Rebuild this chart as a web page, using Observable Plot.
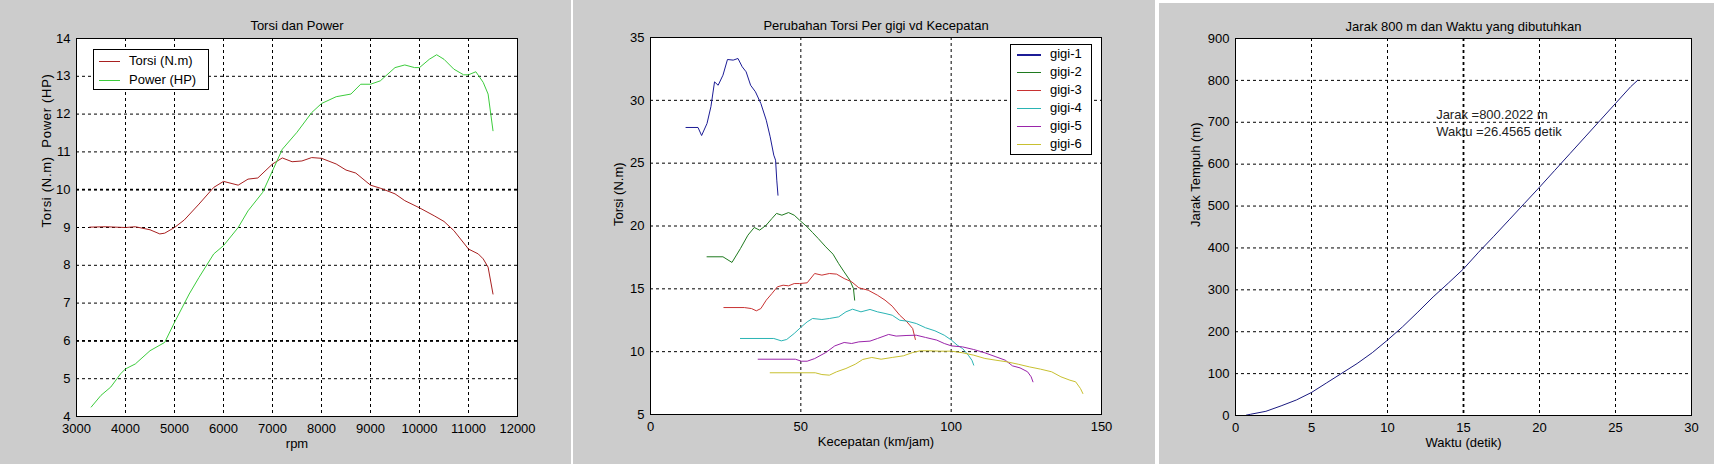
<!DOCTYPE html>
<html>
<head>
<meta charset="utf-8">
<script src="https://cdn.jsdelivr.net/npm/d3@7"></script>
<script src="https://cdn.jsdelivr.net/npm/@observablehq/plot@0.6"></script>
<style>
  html, body { margin: 0; padding: 0; background: #ffffff; }
  #wrap { position: relative; width: 1714px; height: 464px; overflow: hidden; background: #ffffff; font-family: "Liberation Sans", Arial, sans-serif; }
  .panel { position: absolute; }
  .legend { position: absolute; background: #ffffff; border: 1px solid #000; box-sizing: border-box; font-size: 13px; color: #000; }
  .legend .row { position: absolute; left: 0; height: 16px; line-height: 16px; white-space: nowrap; }
  .legend .sw { position: absolute; top: 8px; height: 0; }
  .legend .lab { position: absolute; top: 0; }
</style>
</head>
<body>
<div id="wrap">
  <div class="panel" id="p1" style="left:0;top:0;width:571px;height:464px;"></div>
  <div class="panel" id="p2" style="left:573px;top:0;width:582px;height:464px;"></div>
  <div class="panel" id="p3" style="left:1159px;top:3px;width:555px;height:461px;"></div>
</div>
<script>
// ---------------- Panel 1: Torsi dan Power ----------------
const p1Title = "Torsi dan Power";
const p1XLabel = "rpm";
const p1YLabel = "Torsi (N.m)  Power (HP)";
const rpmTicks = [3000, 4000, 5000, 6000, 7000, 8000, 9000, 10000, 11000, 12000];
const p1YTicks = [4, 5, 6, 7, 8, 9, 10, 11, 12, 13, 14];
const seriesP1 = ["Torsi (N.m)", "Power (HP)"];
const colorsP1 = ["#a82020", "#3ccc3c"];

const torsiRpm = [3270, 3600, 4000, 4200, 4500, 4700, 4800, 5000, 5200, 5500, 5800, 6000, 6300, 6500, 6700, 7000, 7200, 7400, 7600, 7800, 8000, 8300, 8500, 8700, 9000, 9200, 9500, 9700, 10000, 10300, 10500, 10700, 11000, 11200, 11300, 11400, 11500];
const torsiVal = [9.01, 9.02, 9.0, 9.02, 8.94, 8.83, 8.85, 9.0, 9.2, 9.62, 10.06, 10.22, 10.12, 10.28, 10.31, 10.68, 10.84, 10.74, 10.76, 10.85, 10.83, 10.68, 10.52, 10.44, 10.12, 10.04, 9.89, 9.71, 9.52, 9.31, 9.16, 8.92, 8.43, 8.30, 8.17, 7.95, 7.24];

const powerRpm = [3300, 3500, 3700, 3900, 4000, 4200, 4500, 4800, 5000, 5300, 5500, 5800, 6000, 6300, 6500, 6800, 7000, 7200, 7500, 7800, 8000, 8300, 8600, 8800, 9000, 9200, 9500, 9700, 9900, 10000, 10200, 10350, 10500, 10700, 10900, 11000, 11150, 11300, 11400, 11500];
const powerVal = [4.25, 4.56, 4.78, 5.13, 5.26, 5.39, 5.74, 5.96, 6.49, 7.24, 7.68, 8.30, 8.52, 9.0, 9.44, 9.93, 10.5, 11.07, 11.52, 12.04, 12.28, 12.46, 12.53, 12.79, 12.79, 12.88, 13.23, 13.30, 13.23, 13.23, 13.45, 13.57, 13.45, 13.19, 13.04, 13.04, 13.12, 12.84, 12.53, 11.56];

// ---------------- Panel 2: Perubahan Torsi Per gigi vd Kecepatan ----------------
const p2Title = "Perubahan Torsi Per gigi vd Kecepatan";
const p2XLabel = "Kecepatan (km/jam)";
const p2YLabel = "Torsi (N.m)";
const speedTicks = [0, 50, 100, 150];
const p2YTicks = [5, 10, 15, 20, 25, 30, 35];
const gears = ["gigi-1", "gigi-2", "gigi-3", "gigi-4", "gigi-5", "gigi-6"];
const gearColors = ["#1c1c96", "#1f7a1f", "#c83232", "#2ab4b4", "#9a24aa", "#c8c030"];

const gigi1Speed = [11.8, 15.8, 17.0, 18.8, 20.1, 21.3, 22.5, 24.1, 25.6, 27.5, 29.1, 30.5, 31.8, 33.3, 34.9, 36.7, 38.5, 39.8, 41.0, 41.6, 42.0, 42.4];
const gigi1Torque = [27.84, 27.84, 27.2, 28.16, 29.5, 31.47, 31.2, 32.0, 33.25, 33.2, 33.33, 32.67, 32.27, 31.2, 30.68, 29.75, 28.42, 27.1, 25.64, 25.24, 23.65, 22.45];

const gigi2Speed = [18.8, 24.1, 27.1, 29.9, 32.4, 34.5, 36.3, 38.5, 40.4, 41.9, 43.7, 45.9, 47.8, 49.6, 52.1, 53.9, 55.8, 58.3, 60.7, 62.6, 64.4, 66.3, 67.5, 67.9];
const gigi2Torque = [17.55, 17.55, 17.1, 18.2, 19.27, 19.88, 19.67, 20.07, 20.6, 21.0, 20.86, 21.07, 20.86, 20.46, 19.93, 19.48, 19.0, 18.34, 17.76, 17.0, 16.35, 15.69, 15.03, 14.1];

const gigi3Speed = [24.4, 31.2, 33.6, 35.2, 36.7, 38.5, 40.4, 42.2, 44.1, 45.9, 47.8, 49.6, 52.1, 54.6, 57.0, 59.5, 61.9, 64.4, 66.9, 69.3, 72.4, 75.5, 78.0, 80.4, 82.9, 85.3, 87.2, 88.1];
const gigi3Torque = [13.51, 13.51, 13.43, 13.25, 13.43, 14.1, 14.63, 15.16, 15.29, 15.24, 15.42, 15.42, 15.48, 16.22, 16.09, 16.22, 16.17, 15.82, 15.56, 15.08, 14.89, 14.49, 14.1, 13.62, 12.9, 12.37, 11.84, 10.97];

const gigi4Speed = [29.9, 41.0, 43.5, 45.3, 47.8, 50.2, 52.1, 53.9, 57.0, 59.5, 62.6, 65.0, 67.2, 70.0, 73.0, 75.5, 78.0, 80.4, 82.9, 85.3, 88.4, 91.5, 94.6, 97.7, 100.1, 102.0, 103.8, 105.7, 106.9, 107.5];
const gigi4Torque = [11.05, 11.05, 10.86, 10.97, 11.45, 11.98, 12.37, 12.64, 12.56, 12.64, 12.77, 13.17, 13.38, 13.17, 13.36, 13.17, 13.04, 12.9, 12.5, 12.43, 12.24, 11.9, 11.66, 11.31, 10.92, 10.52, 10.25, 9.72, 9.32, 8.93];

const gigi5Speed = [35.8, 48.2, 50.2, 52.1, 54.6, 58.3, 61.3, 64.4, 66.9, 69.3, 73.0, 75.5, 79.2, 81.7, 85.3, 88.4, 91.5, 95.2, 97.7, 100.1, 103.8, 107.5, 111.2, 114.9, 118.0, 120.4, 122.9, 125.4, 126.6, 127.2];
const gigi5Torque = [9.4, 9.4, 9.24, 9.24, 9.45, 9.93, 10.46, 10.73, 10.65, 10.78, 10.84, 11.05, 11.37, 11.24, 11.29, 11.31, 11.13, 10.92, 10.65, 10.46, 10.38, 10.17, 9.91, 9.59, 9.32, 8.87, 8.71, 8.4, 8.0, 7.6];

const gigi6Speed = [39.8, 54.8, 57.0, 59.5, 61.9, 65.0, 68.1, 70.6, 73.6, 76.7, 80.4, 84.1, 87.2, 89.7, 92.7, 96.4, 100.1, 103.8, 107.5, 111.2, 114.9, 118.6, 122.3, 126.0, 129.7, 133.4, 136.5, 139.5, 141.4, 143.0, 143.8];
const gigi6Torque = [8.32, 8.32, 8.18, 8.13, 8.4, 8.66, 9.0, 9.38, 9.54, 9.4, 9.54, 9.67, 9.93, 10.07, 10.07, 10.04, 10.04, 9.91, 9.72, 9.46, 9.32, 9.19, 9.0, 8.79, 8.61, 8.4, 8.0, 7.73, 7.6, 7.07, 6.67];

// ---------------- Panel 3: Jarak 800 m dan Waktu yang dibutuhkan ----------------
const p3Title = "Jarak 800 m dan Waktu yang dibutuhkan";
const p3XLabel = "Waktu (detik)";
const p3YLabel = "Jarak Tempuh (m)";
const timeTicks = [0, 5, 10, 15, 20, 25, 30];
const distTicks = [0, 100, 200, 300, 400, 500, 600, 700, 800, 900];
const finalDistance = 800.2022;
const finalTime = 26.4565;
const annotationPos = [13.2, 700];
const waktu = [0.72, 1, 2, 3, 4, 5, 6, 7, 8, 9, 10, 11, 12, 13, 14, 15, 16, 17, 18, 19, 20, 21, 22, 23, 24, 25, 26, 26.4565];
const jarak = [1, 3, 10, 23, 37, 55, 78, 101, 124, 150, 180, 212, 247, 283, 316, 350, 390, 428, 467, 506, 545, 585, 625, 665, 705, 745, 785, 800.2022];

// ---------------- helpers ----------------
const zipXY = (xs, ys) => xs.map((x, i) => ({x, y: ys[i]}));
const FONT = "'Liberation Sans', Arial, Helvetica, sans-serif";
const baseStyle = {background: "#cccccc", color: "#000", fontFamily: FONT, fontSize: "13px", overflow: "visible"};
const gridOpts = {stroke: "#000", strokeOpacity: 1, strokeWidth: 1, strokeDasharray: "3,3"};

function commonMarks({xTicks, yTicks, title, xLabel, yLabel, titleDy, xLabelDy, yLabelDx}) {
  return {
    pre: [
      Plot.frame({fill: "#ffffff", stroke: null}),
      Plot.gridX(xTicks, gridOpts),
      Plot.gridY(yTicks, gridOpts)
    ],
    post: [
      Plot.frame({stroke: "#000", strokeWidth: 1}),
      Plot.axisX(xTicks, {tickSize: 0, tickPadding: 7, label: null, tickFormat: d => String(d), fill: "#000", fontSize: 13}),
      Plot.axisY(yTicks, {tickSize: 0, tickPadding: 6, label: null, tickFormat: d => String(d), fill: "#000", fontSize: 13}),
      Plot.text([title], {text: d => d, frameAnchor: "top", dy: titleDy, fill: "#000", fontSize: 13}),
      Plot.text([xLabel], {text: d => d, frameAnchor: "bottom", dy: xLabelDy, fill: "#000", fontSize: 13}),
      Plot.text([yLabel], {text: d => d, frameAnchor: "left", dx: yLabelDx, rotate: -90, fill: "#000", fontSize: 13, className: "ylab"})
    ]
  };
}

// ---------------- Panel 1 ----------------
{
  const cm = commonMarks({xTicks: rpmTicks, yTicks: p1YTicks, title: p1Title, xLabel: p1XLabel, yLabel: p1YLabel, titleDy: -18, xLabelDy: 31, yLabelDx: -30});
  const chart = Plot.plot({
    width: 571, height: 464,
    marginLeft: 76, marginRight: 54, marginTop: 38, marginBottom: 48,
    style: baseStyle,
    x: {domain: [3000, 12000]},
    y: {domain: [4, 14]},
    marks: [
      ...cm.pre,
      Plot.gridY([6, 10], {...gridOpts, strokeWidth: 1.8}),
      Plot.line(zipXY(torsiRpm, torsiVal), {x: "x", y: "y", stroke: colorsP1[0], strokeWidth: 1}),
      Plot.line(zipXY(powerRpm, powerVal), {x: "x", y: "y", stroke: colorsP1[1], strokeWidth: 1}),
      ...cm.post
    ]
  });
  const p1 = document.getElementById("p1");
  p1.appendChild(chart);
  d3.select(chart).selectAll(".ylab text").style("letter-spacing", "0.7px");
  const lg = document.createElement("div");
  lg.className = "legend";
  Object.assign(lg.style, {left: "93px", top: "49px", width: "116px", height: "41px"});
  seriesP1.forEach((name, i) => {
    const row = document.createElement("div");
    row.className = "row";
    row.style.top = (3.3 + i * 18.7) + "px";
    row.style.width = "100%";
    row.innerHTML = `<div class="sw" style="left:5px;width:21px;border-top:1px solid ${colorsP1[i]}"></div><span class="lab" style="left:35px">${name}</span>`;
    lg.appendChild(row);
  });
  p1.appendChild(lg);
}

// ---------------- Panel 2 ----------------
{
  const cm = commonMarks({xTicks: speedTicks, yTicks: p2YTicks, title: p2Title, xLabel: p2XLabel, yLabel: p2YLabel, titleDy: -17, xLabelDy: 31, yLabelDx: -32});
  const gearSpeeds = [gigi1Speed, gigi2Speed, gigi3Speed, gigi4Speed, gigi5Speed, gigi6Speed];
  const gearTorques = [gigi1Torque, gigi2Torque, gigi3Torque, gigi4Torque, gigi5Torque, gigi6Torque];
  const chart = Plot.plot({
    width: 582, height: 464,
    marginLeft: 77, marginRight: 54, marginTop: 37, marginBottom: 50,
    style: baseStyle,
    x: {domain: [0, 150]},
    y: {domain: [5, 35]},
    marks: [
      ...cm.pre,
      ...gears.map((g, i) => Plot.line(zipXY(gearSpeeds[i], gearTorques[i]), {x: "x", y: "y", stroke: gearColors[i], strokeWidth: 1})),
      ...cm.post
    ]
  });
  const p2 = document.getElementById("p2");
  p2.appendChild(chart);
  const lg = document.createElement("div");
  lg.className = "legend";
  Object.assign(lg.style, {left: "437px", top: "44px", width: "82px", height: "111px"});
  gears.forEach((name, i) => {
    const row = document.createElement("div");
    row.className = "row";
    row.style.top = (0.8 + i * 18) + "px";
    row.style.width = "100%";
    const w = i === 0 ? 2 : 1;
    row.innerHTML = `<div class="sw" style="left:6px;width:24px;border-top:${w}px solid ${gearColors[i]}"></div><span class="lab" style="left:39px">${name}</span>`;
    lg.appendChild(row);
  });
  p2.appendChild(lg);
}

// ---------------- Panel 3 ----------------
{
  const cm = commonMarks({xTicks: timeTicks, yTicks: distTicks, title: p3Title, xLabel: p3XLabel, yLabel: p3YLabel, titleDy: -17, xLabelDy: 31, yLabelDx: -40});
  const annotation = `Jarak =${finalDistance.toFixed(4)} m\nWaktu =${finalTime.toFixed(4)} detik`;
  const chart = Plot.plot({
    width: 555, height: 461,
    marginLeft: 76, marginRight: 23, marginTop: 35, marginBottom: 49,
    style: baseStyle,
    x: {domain: [0, 30]},
    y: {domain: [0, 900]},
    marks: [
      ...cm.pre,
      Plot.gridX([15], {...gridOpts, strokeWidth: 1.8}),
      Plot.line(zipXY(waktu, jarak), {x: "x", y: "y", stroke: "#1a1a80", strokeWidth: 1}),
      Plot.text([{x: annotationPos[0], y: annotationPos[1], t: annotation}], {x: "x", y: "y", text: "t", textAnchor: "start", lineHeight: 1.28, fill: "#222", fontSize: 13}),
      ...cm.post
    ]
  });
  document.getElementById("p3").appendChild(chart);
}
</script>
</body>
</html>
